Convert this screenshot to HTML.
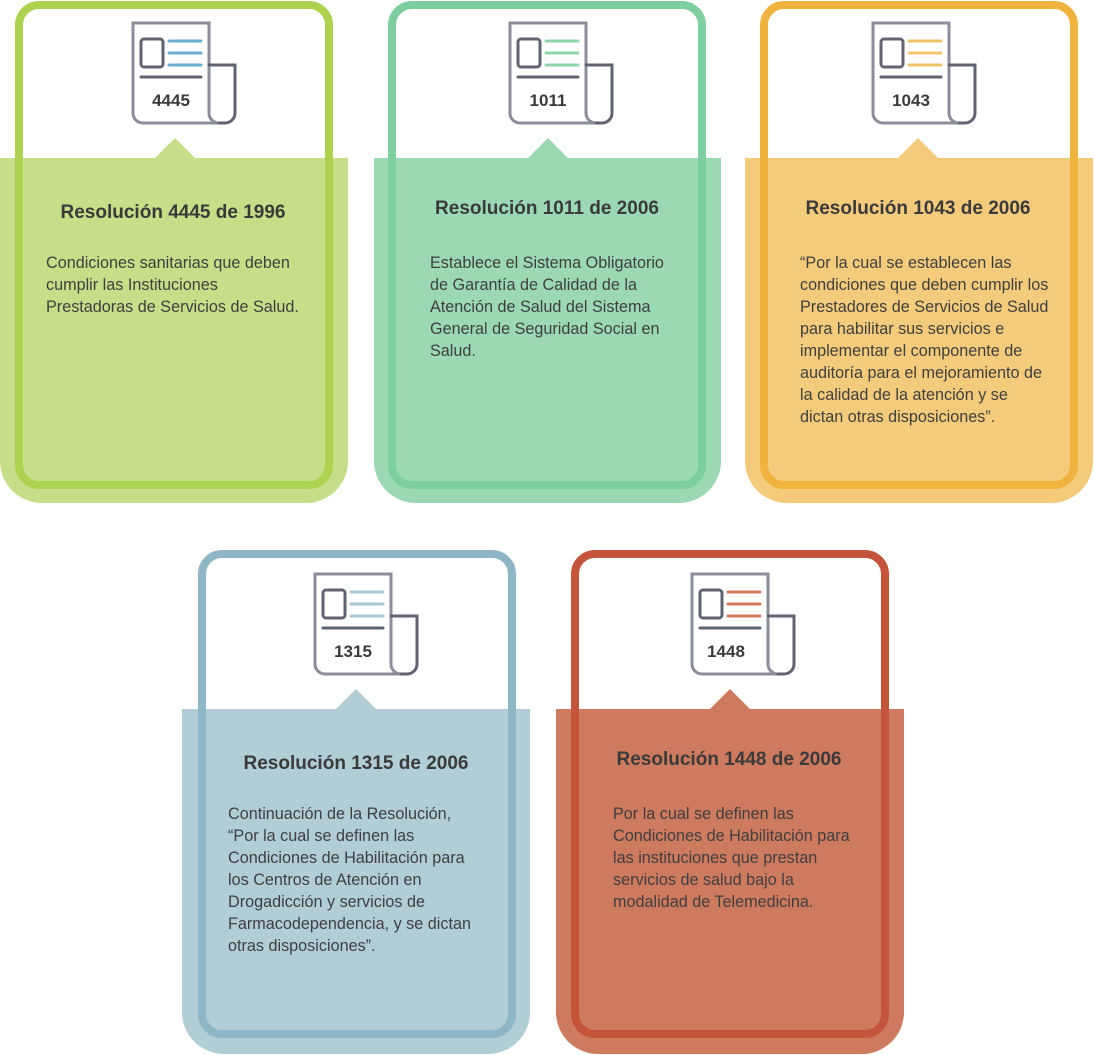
<!DOCTYPE html>
<html><head><meta charset="utf-8"><style>
body{margin:0;width:1094px;height:1055px;background:#fff;position:relative;overflow:hidden;font-family:"Liberation Sans",sans-serif;color:#3d3d3d}
.fill{position:absolute;border-radius:0 0 42px 42px}
.tri{position:absolute;width:0;height:0;border-left:20px solid transparent;border-right:20px solid transparent;border-bottom:20px solid}
.out{position:absolute;border:8px solid;border-radius:24px;box-sizing:border-box}
.ic{position:absolute;width:106px;height:104px}
.t{position:absolute;font-weight:bold;font-size:19px;white-space:nowrap;transform:translateX(-50%);color:#3a3a3a}
.b{position:absolute;font-size:16.2px;line-height:22px;white-space:nowrap;color:#3f3f3f}
</style></head><body>
<!-- card 1 -->
<div class="fill" style="left:0;top:158px;width:348px;height:345px;background:#c7de88"></div>
<div class="tri" style="left:155px;top:138px;border-bottom-color:#c7de88"></div>
<div class="out" style="left:15px;top:1px;width:318px;height:488px;border-color:#acd250"></div>
<svg class="ic" style="left:131px;top:21px" viewBox="0 0 106 104" fill="none" stroke-width="3" stroke-linecap="round"><path d="M2,2H78V92A10,10 0 0 0 88,102H12A10,10 0 0 1 2,92Z" stroke="#8a8e98"/><path d="M78,44H104V92A10,10 0 0 1 94,102H88" stroke="#5f6470"/><rect x="10" y="18" width="22" height="28" rx="3" stroke="#5f6470"/><path d="M38,20H70M38,32H70M38,44H70" stroke="#6aaed0"/><path d="M10,56H70" stroke="#5f6470"/><text x="40" y="85" text-anchor="middle" font-family="Liberation Sans" font-weight="bold" font-size="17" fill="#3a3a3a" stroke="none">4445</text></svg>
<div class="t" style="left:173px;top:202px">Resolución 4445 de 1996</div>
<div class="b" style="left:46px;top:252px">Condiciones sanitarias que deben<br>cumplir las Instituciones<br>Prestadoras de Servicios de Salud.</div>

<!-- card 2 -->
<div class="fill" style="left:374px;top:158px;width:347px;height:345px;background:#9bd8b4"></div>
<div class="tri" style="left:528px;top:138px;border-bottom-color:#9bd8b4"></div>
<div class="out" style="left:388px;top:1px;width:318px;height:488px;border-color:#7ecf9f"></div>
<svg class="ic" style="left:508px;top:21px" viewBox="0 0 106 104" fill="none" stroke-width="3" stroke-linecap="round"><path d="M2,2H78V92A10,10 0 0 0 88,102H12A10,10 0 0 1 2,92Z" stroke="#8a8e98"/><path d="M78,44H104V92A10,10 0 0 1 94,102H88" stroke="#5f6470"/><rect x="10" y="18" width="22" height="28" rx="3" stroke="#5f6470"/><path d="M38,20H70M38,32H70M38,44H70" stroke="#8fd5aa"/><path d="M10,56H70" stroke="#5f6470"/><text x="40" y="85" text-anchor="middle" font-family="Liberation Sans" font-weight="bold" font-size="17" fill="#3a3a3a" stroke="none">1011</text></svg>
<div class="t" style="left:547px;top:198px">Resolución 1011 de 2006</div>
<div class="b" style="left:430px;top:252px">Establece el Sistema Obligatorio<br>de Garantía de Calidad de la<br>Atención de Salud del Sistema<br>General de Seguridad Social en<br>Salud.</div>

<!-- card 3 -->
<div class="fill" style="left:745px;top:158px;width:348px;height:345px;background:#f4cb7b"></div>
<div class="tri" style="left:898px;top:138px;border-bottom-color:#f4cb7b"></div>
<div class="out" style="left:760px;top:1px;width:318px;height:488px;border-color:#efb33e"></div>
<svg class="ic" style="left:871px;top:21px" viewBox="0 0 106 104" fill="none" stroke-width="3" stroke-linecap="round"><path d="M2,2H78V92A10,10 0 0 0 88,102H12A10,10 0 0 1 2,92Z" stroke="#8a8e98"/><path d="M78,44H104V92A10,10 0 0 1 94,102H88" stroke="#5f6470"/><rect x="10" y="18" width="22" height="28" rx="3" stroke="#5f6470"/><path d="M38,20H70M38,32H70M38,44H70" stroke="#f2c46a"/><path d="M10,56H70" stroke="#5f6470"/><text x="40" y="85" text-anchor="middle" font-family="Liberation Sans" font-weight="bold" font-size="17" fill="#3a3a3a" stroke="none">1043</text></svg>
<div class="t" style="left:918px;top:198px">Resolución 1043 de 2006</div>
<div class="b" style="left:800px;top:252px">“Por la cual se establecen las<br>condiciones que deben cumplir los<br>Prestadores de Servicios de Salud<br>para habilitar sus servicios e<br>implementar el componente de<br>auditoría para el mejoramiento de<br>la calidad de la atención y se<br>dictan otras disposiciones”.</div>

<!-- card 4 -->
<div class="fill" style="left:182px;top:709px;width:348px;height:345px;background:#b1cdd6"></div>
<div class="tri" style="left:336px;top:689px;border-bottom-color:#b1cdd6"></div>
<div class="out" style="left:198px;top:550px;width:318px;height:488px;border-color:#8fb6c4"></div>
<svg class="ic" style="left:313px;top:572px" viewBox="0 0 106 104" fill="none" stroke-width="3" stroke-linecap="round"><path d="M2,2H78V92A10,10 0 0 0 88,102H12A10,10 0 0 1 2,92Z" stroke="#8a8e98"/><path d="M78,44H104V92A10,10 0 0 1 94,102H88" stroke="#5f6470"/><rect x="10" y="18" width="22" height="28" rx="3" stroke="#5f6470"/><path d="M38,20H70M38,32H70M38,44H70" stroke="#a8c8d3"/><path d="M10,56H70" stroke="#5f6470"/><text x="40" y="85" text-anchor="middle" font-family="Liberation Sans" font-weight="bold" font-size="17" fill="#3a3a3a" stroke="none">1315</text></svg>
<div class="t" style="left:356px;top:753px">Resolución 1315 de 2006</div>
<div class="b" style="left:228px;top:803px">Continuación de la Resolución,<br>“Por la cual se definen las<br>Condiciones de Habilitación para<br>los Centros de Atención en<br>Drogadicción y servicios de<br>Farmacodependencia, y se dictan<br>otras disposiciones”.</div>

<!-- card 5 -->
<div class="fill" style="left:556px;top:709px;width:348px;height:345px;background:#cd7a5e"></div>
<div class="tri" style="left:710px;top:689px;border-bottom-color:#cd7a5e"></div>
<div class="out" style="left:571px;top:550px;width:318px;height:488px;border-color:#c4553a"></div>
<svg class="ic" style="left:690px;top:572px" viewBox="0 0 106 104" fill="none" stroke-width="3" stroke-linecap="round"><path d="M2,2H78V92A10,10 0 0 0 88,102H12A10,10 0 0 1 2,92Z" stroke="#8a8e98"/><path d="M78,44H104V92A10,10 0 0 1 94,102H88" stroke="#5f6470"/><rect x="10" y="18" width="22" height="28" rx="3" stroke="#5f6470"/><path d="M38,20H70M38,32H70M38,44H70" stroke="#d67a5c"/><path d="M10,56H70" stroke="#5f6470"/><text x="36" y="85" text-anchor="middle" font-family="Liberation Sans" font-weight="bold" font-size="17" fill="#3a3a3a" stroke="none">1448</text></svg>
<div class="t" style="left:729px;top:749px">Resolución 1448 de 2006</div>
<div class="b" style="left:613px;top:803px">Por la cual se definen las<br>Condiciones de Habilitación para<br>las instituciones que prestan<br>servicios de salud bajo la<br>modalidad de Telemedicina.</div>
</body></html>
